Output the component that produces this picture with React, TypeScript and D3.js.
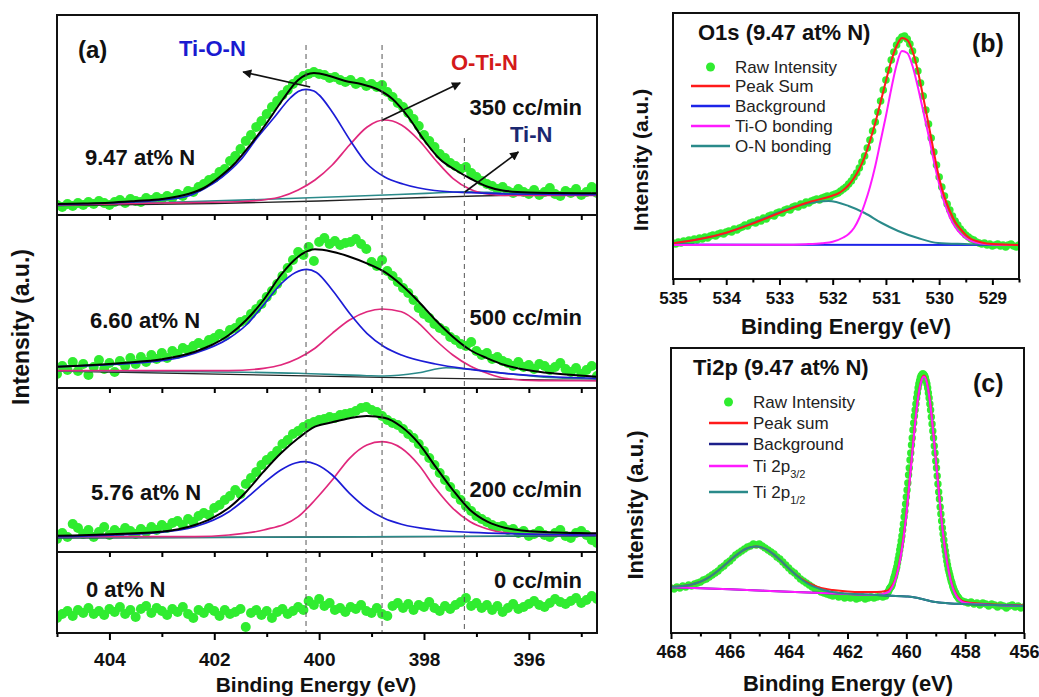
import React, { useEffect, useRef } from "react"
import * as d3 from "d3"

type Pt = [number, number]

// ---------- (a) N 1s, raw counts every 0.1 eV from 405 eV down ----------
const n1sStart = 405
const n1sStep = 0.1
const n1sDomain = [405, 394.7]
const n1sMajor = [404, 402, 400, 398, 396]
const n1sMinor = [405, 403, 401, 399, 397, 395]
const n1sEvery = [404, 403, 402, 401, 400, 399, 398, 397, 396, 395]
const n1sGuides = [400.25, 398.8, 397.23]
const nContent = ["9.47 at% N", "6.60 at% N", "5.76 at% N", "0 at% N"]
const nh3Flow = ["350 cc/min", "500 cc/min", "200 cc/min", "0 cc/min"]

const raw947 = [
  6, 4, 7, 5, 8, 6, 9, 7, 10, 8,
  6, 9, 11, 8, 12, 10, 9, 13, 11, 14,
  12, 15, 13, 17, 15, 20, 19, 24, 27, 31,
  33, 39, 42, 50, 55, 62, 70, 76, 84, 90,
  97, 104, 110, 116, 121, 127, 131, 135, 137, 139,
  137, 136, 133, 134, 131, 129, 131, 127, 129, 125,
  127, 124, 126, 119, 114, 108, 104, 98, 92, 85,
  76, 70, 64, 57, 53, 48, 45, 42, 44, 38,
  34, 30, 27, 25, 22, 24, 20, 18, 22, 19,
  17, 21, 16, 19, 23, 17, 15, 20, 18, 22,
  16, 19, 24, 18,
]
const raw660 = [
  14, 22, 18, 26, 17, 24, 13, 21, 28, 19,
  25, 16, 27, 22, 30, 24, 31, 26, 33, 29,
  35, 30, 37, 34, 40, 38, 42, 45, 43, 48,
  50, 54, 52, 58, 60, 66, 68, 74, 79, 84,
  91, 97, 104, 112, 120, 128, 136, 133, 141, 127,
  146, 150, 144, 147, 143, 145, 146, 149, 144, 139,
  126, 122, 128, 117, 112, 106, 100, 95, 88, 80,
  74, 70, 64, 60, 57, 51, 48, 44, 42, 46,
  37, 33, 35, 29, 31, 27, 25, 22, 26, 21,
  23, 19, 24, 22, 18, 21, 25, 19, 16, 20,
  14, 18, 22, 12,
]
const raw576 = [
  13, 19, 15, 28, 24, 18, 22, 15, 20, 25,
  17, 22, 19, 24, 21, 18, 23, 20, 25, 22,
  27, 24, 29, 31, 27, 33, 30, 36, 39, 37,
  44, 47, 52, 56, 62, 58, 68, 74, 80, 87,
  92, 96, 101, 108, 112, 118, 121, 125, 128, 130,
  132, 133, 135, 134, 137, 138, 139, 141, 144, 145,
  142, 140, 136, 132, 129, 127, 123, 118, 114, 108,
  101, 94, 87, 79, 72, 65, 58, 52, 46, 41,
  36, 33, 30, 27, 25, 26, 22, 23, 19, 21,
  16, 18, 21, 17, 15, 19, 22, 16, 14, 19,
  21, 17, 12, 9,
]
const raw000 = [
  14, 18, 21, 16, 22, 19, 24, 18, 21, 17,
  23, 20, 25, 18, 22, 15, 23, 26, 19, 24,
  21, 17, 23, 20, 25, 18, 14, 22, 19, 24,
  21, 16, 22, 18, 20, 23, 5, 19, 22, 17,
  21, 14, 20, 23, 18, 21, 25, 22, 31, 27,
  33, 26, 29, 22, 24, 20, 25, 23, 27, 21,
  19, 24, 18, 16, 26, 29, 24, 28, 22, 27,
  25, 30, 24, 21, 26, 23, 27, 30, 34, 26,
  29, 24, 27, 22, 26, 20, 24, 28, 23, 25,
  28, 31, 27, 25, 29, 33, 30, 28, 31, 34,
  29, 32, 36, 33,
]

// fitted components [eV, intensity]
const sum947: Pt[] = [[405, 7], [404.5, 7.5], [404, 8.3], [403.5, 10], [403, 12], [402.5, 17], [402.2, 23], [401.9, 34], [401.6, 48], [401.3, 67], [401, 88], [400.7, 111], [400.4, 131], [400.1, 138], [399.8, 135], [399.5, 130], [399.2, 127], [398.9, 122], [398.6, 112], [398.3, 94], [398, 71], [397.7, 52], [397.4, 41], [397.1, 32], [396.8, 24.5], [396.5, 20.5], [396, 18.5], [395.5, 18], [394.7, 17.7]]
const tion947: Pt[] = [[405, 6.3], [404, 8], [403, 11], [402.5, 15], [402.2, 22], [401.85, 34], [401.5, 51], [401.2, 72], [400.85, 94], [400.55, 113], [400.4, 119.5], [400.25, 121.7], [400.1, 120], [400, 116], [399.75, 99], [399.4, 70], [399.1, 48], [398.75, 34], [398.4, 27], [397.8, 20.5], [397.1, 18.3], [396.4, 17], [394.7, 16.3]]
const otin947: Pt[] = [[405, 6], [403, 8], [401.5, 9.5], [401, 11.5], [400.73, 14.3], [400.4, 21], [400.08, 31], [399.75, 46], [399.42, 66], [399.09, 83.7], [398.9, 89.5], [398.76, 91], [398.6, 90], [398.43, 86], [398.1, 71], [397.78, 51], [397.45, 32.7], [397.12, 21.7], [396.79, 17], [396.46, 15.7], [394.7, 15.7]]
const tin947: Pt[] = [[405, 6], [403, 8.5], [401, 11.7], [399.5, 14.5], [398.5, 16.5], [397.8, 18], [397.2, 19.3], [396.8, 18.7], [396.2, 17], [394.7, 16.3]]
const bg947: Pt[] = [[405, 5.5], [402, 7.5], [400, 10], [398, 13.5], [397, 15], [396, 16], [394.7, 16.5]]

const sum660: Pt[] = [[405, 21.3], [403.7, 25.3], [403, 28.7], [402.37, 36.3], [402.05, 43], [401.72, 53], [401.39, 68], [401.06, 88], [400.73, 113], [400.4, 131.3], [400.08, 138.7], [399.75, 136.3], [399.42, 131.3], [399.09, 124.7], [398.76, 116.3], [398.43, 103], [398.1, 86.3], [397.78, 68], [397.45, 51.3], [397.12, 38], [396.79, 29.7], [396.46, 23], [395.81, 16.3], [395.15, 13], [394.7, 11.3]]
const tion660: Pt[] = [[405, 21.3], [403, 27.3], [402.37, 34.7], [401.72, 49.7], [401.39, 63], [401.06, 83], [400.73, 104], [400.45, 115.5], [400.24, 118.7], [400.05, 115.5], [399.75, 98], [399.42, 74.7], [399.09, 54.7], [398.76, 41.3], [398.43, 33], [397.78, 24], [397.12, 18.7], [396.46, 14.7], [395.81, 12], [394.7, 9.7]]
const otin660: Pt[] = [[405, 17.3], [401.72, 17.3], [401.06, 19.7], [400.73, 23], [400.4, 29.7], [400.08, 39.7], [399.75, 54.7], [399.42, 68], [399.09, 76.3], [398.8, 79], [398.43, 76.3], [398.1, 64.7], [397.78, 48], [397.45, 33], [397.12, 22], [396.79, 14.7], [396.46, 9.7], [395.81, 7.3], [394.7, 7.3]]
const tin660: Pt[] = [[405, 17], [402.37, 16.3], [400.4, 14.7], [399.09, 12.3], [398.76, 12], [398.1, 15.3], [397.58, 20.3], [397.12, 18.7], [396.46, 14.7], [395.81, 11.3], [394.7, 8.7]]
const bg660: Pt[] = [[405, 17], [398.8, 10.7], [394.7, 7.3]]

const sum576: Pt[] = [[405, 16.3], [403.03, 20.3], [402.37, 27], [402.05, 33.7], [401.72, 44.3], [401.39, 60.3], [401.06, 80.3], [400.73, 98.7], [400.4, 113.7], [400.08, 125.3], [399.75, 129.7], [399.42, 133.7], [399.09, 136], [398.76, 134.3], [398.43, 125.3], [398.1, 108.7], [397.78, 85.3], [397.45, 62], [397.12, 42], [396.79, 30.3], [396.46, 24.3], [395.81, 20.3], [394.7, 18.7]]
const tion576: Pt[] = [[405, 15.3], [403.03, 19.7], [402.37, 25.3], [401.72, 40.3], [401.39, 53.7], [401.06, 68.7], [400.73, 82], [400.45, 89], [400.27, 90.3], [400.05, 87.5], [399.75, 77], [399.42, 58.7], [399.09, 43.7], [398.76, 33.7], [398.43, 27.7], [397.78, 22], [397.12, 19.7], [394.7, 17]]
const otin576: Pt[] = [[405, 15.3], [402.37, 15.3], [401.72, 17], [401.06, 22], [400.4, 35.3], [400.08, 52], [399.75, 72], [399.42, 93.7], [399.09, 107], [398.8, 110.3], [398.43, 103.7], [398.1, 87], [397.78, 63.7], [397.45, 43.7], [397.12, 30.3], [396.79, 23], [396.46, 19.3], [395.81, 17.7], [394.7, 17]]
const tin576: Pt[] = [[405, 14.3], [400, 15], [397, 15.8], [394.7, 16.3]]
const bg576: Pt[] = [[405, 14], [394.7, 16]]

// ---------- (b) O 1s, raw every 0.05 eV from 535 eV ----------
const o1sStart = 535
const o1sStep = 0.05
const o1sDomain = [535, 528.5]
const o1sMajor = [535, 534, 533, 532, 531, 530, 529]
const o1sMinor = [534.5, 533.5, 532.5, 531.5, 530.5, 529.5, 528.5]
const o1sRaw = [
  36, 35, 37, 36, 38, 37, 39, 38, 40, 39,
  41, 40, 42, 41, 43, 44, 43, 45, 46, 45,
  47, 48, 47, 50, 49, 51, 52, 54, 53, 56,
  57, 56, 59, 58, 61, 60, 63, 64, 63, 66,
  67, 66, 69, 70, 69, 72, 73, 72, 75, 74,
  77, 76, 78, 79, 80, 79, 81, 82, 83, 82,
  84, 85, 86, 88, 90, 92, 95, 98, 102, 106,
  111, 117, 123, 131, 139, 148, 157, 167, 178, 189,
  199, 209, 219, 227, 234, 239, 242, 243, 240, 235,
  228, 219, 208, 196, 183, 169, 155, 141, 127, 114,
  102, 92, 83, 75, 69, 63, 58, 54, 50, 47,
  44, 42, 40, 39, 37, 36, 35, 36, 34, 35,
  33, 34, 35, 33, 34, 32, 34, 35, 33, 32,
  34,
]
const o1sSum: Pt[] = [[535, 35.7], [534.5, 40], [534, 46.3], [533.5, 55.5], [533, 66], [532.5, 76], [532, 83.5], [531.9, 85.5], [531.8, 89], [531.7, 94], [531.6, 101], [531.5, 110], [531.4, 122], [531.3, 138], [531.2, 156], [531.1, 177], [531, 198], [530.9, 218], [530.8, 233], [530.7, 241], [530.6, 239], [530.5, 228], [530.4, 208], [530.3, 182], [530.2, 155], [530.1, 127], [530, 101], [529.9, 82], [529.8, 68], [529.7, 57], [529.6, 50], [529.5, 44], [529.4, 40], [529.3, 38], [529.2, 36.5], [529, 35], [528.5, 34]]
const o1sBg: Pt[] = [[535, 34.5], [528.5, 34]]
const o1sTiO: Pt[] = [[535, 34], [533, 34.2], [532.5, 34.8], [532.2, 35.8], [532, 37.3], [531.8, 41.5], [531.7, 45], [531.6, 51], [531.5, 61], [531.4, 75], [531.3, 92], [531.2, 113], [531.1, 138], [531, 163], [530.9, 190], [530.8, 214], [530.7, 228], [530.6, 226], [530.5, 213], [530.4, 192], [530.3, 168], [530.2, 144], [530.1, 118], [530, 95], [529.9, 76], [529.8, 62], [529.7, 52], [529.6, 45.5], [529.5, 41], [529.4, 38], [529.2, 35.5], [529, 34.6], [528.5, 34]]
const o1sON: Pt[] = [[535, 35.7], [534.5, 40], [534, 46], [533.65, 53], [533.28, 61], [532.9, 69], [532.52, 75], [532.08, 78], [531.7, 73], [531.4, 66], [531.08, 56], [530.77, 48], [530.4, 41], [530.02, 36], [529.52, 35], [528.5, 34]]
const o1sLegend = ["Raw Intensity", "Peak Sum", "Background", "Ti-O bonding", "O-N bonding"]

// ---------- (c) Ti 2p, raw in three runs ----------
const ti2pDomain = [468, 456]
const ti2pMajor = [468, 466, 464, 462, 460, 458, 456]
const ti2pMinor = [467, 465, 463, 461, 459, 457]
const ti2pRawA = [ // 468.0 .. 460.7, 0.1 eV
  45, 44, 46, 45, 47, 46, 48, 47, 49, 50,
  51, 53, 54, 56, 58, 60, 62, 65, 67, 70,
  72, 75, 78, 80, 82, 84, 86, 87, 89, 88,
  89, 87, 85, 83, 81, 79, 76, 74, 71, 68,
  65, 62, 60, 57, 54, 52, 50, 48, 46, 44,
  43, 41, 40, 39, 38, 37, 38, 36, 37, 35,
  36, 35, 36, 34, 35, 36, 34, 35, 36, 35,
  36, 37, 36, 37,
]
const ti2pRawB = [ // 460.65 .. 458.20, 0.025 eV
  40, 41, 42, 44, 45, 46, 47, 49, 52, 55,
  57, 60, 63, 66, 70, 74, 78, 83, 87, 92,
  97, 103, 109, 116, 122, 129, 136, 143, 150, 158,
  165, 173, 180, 188, 195, 203, 210, 217, 223, 229,
  235, 240, 245, 249, 252, 255, 257, 258, 259, 259,
  258, 257, 255, 252, 249, 245, 240, 235, 229, 223,
  216, 209, 202, 195, 187, 180, 172, 165, 157, 149,
  141, 134, 126, 119, 112, 105, 99, 93, 87, 82,
  77, 72, 68, 64, 61, 58, 55, 52, 50, 47,
  45, 43, 41, 40, 38, 37, 36, 35, 34,
]
const ti2pRawC = [ // 458.1 .. 456.0, 0.1 eV
  32, 31, 30, 31, 29, 30, 28, 30, 29, 27,
  29, 28, 26, 28, 27, 25, 27, 28, 26, 27,
  25, 26,
]
const ti2pBg: Pt[] = [[468, 45.7], [466, 43.7], [464, 41.3], [462, 39], [461, 38], [460.5, 37.3], [460, 36.5], [459.8, 36], [459.6, 35], [459.4, 33.5], [459.2, 32], [459, 31], [458.8, 30.2], [458.5, 29.5], [458, 29], [457, 28], [456, 27]]
const ti2p12: Pt[] = [[468, 46.2], [467.6, 47], [467.3, 48.5], [467.1, 50.2], [466.9, 52.6], [466.7, 55.9], [466.5, 60], [466.3, 64.7], [466.1, 69.8], [465.9, 75], [465.7, 79.6], [465.5, 83.5], [465.3, 85.8], [465.1, 86.6], [464.9, 85.4], [464.7, 82.7], [464.5, 78.4], [464.3, 73.2], [464.1, 67.5], [463.9, 62], [463.7, 56.8], [463.5, 52.3], [463.3, 48.6], [463.1, 45.8], [462.9, 43.7], [462.6, 41.6], [462.1, 39.5], [461, 38], [460.5, 37.3], [460, 36.5], [459.8, 36], [459.6, 35], [459.4, 33.5], [459.2, 32], [459, 31], [458.8, 30.2], [458.5, 29.5], [458, 29], [457, 28], [456, 27]]
const ti2p32: Pt[] = [[468, 45.7], [466, 43.7], [464, 41.3], [462, 39], [461, 38], [460.6, 41], [460.5, 45], [460.4, 51], [460.3, 61], [460.2, 75], [460.1, 94], [460, 118], [459.9, 148], [459.8, 179], [459.7, 210], [459.6, 235], [459.5, 251], [459.4, 256.5], [459.3, 250], [459.2, 232], [459.1, 205], [459, 174], [458.9, 143], [458.8, 112], [458.7, 87], [458.6, 68], [458.5, 53.5], [458.4, 43.4], [458.3, 37.3], [458.2, 33.2], [458, 30], [457, 28], [456, 27]]
const ti2pSum: Pt[] = [[468, 46.2], [467.6, 47], [467.3, 48.5], [467.1, 50.2], [466.9, 52.6], [466.7, 55.9], [466.5, 60], [466.3, 64.7], [466.1, 69.8], [465.9, 75], [465.7, 79.6], [465.5, 83.5], [465.3, 85.8], [465.1, 86.6], [464.9, 85.4], [464.7, 82.7], [464.5, 78.4], [464.3, 73.2], [464.1, 67.5], [463.9, 62], [463.7, 57], [463.5, 53], [463.3, 49.5], [463.1, 47], [462.9, 45], [462.5, 43], [462, 41.5], [461.5, 41], [461, 41], [460.7, 42], [460.6, 43], [460.5, 46.5], [460.4, 52], [460.3, 62], [460.2, 76], [460.1, 95], [460, 119], [459.9, 149], [459.8, 180], [459.7, 211], [459.6, 236], [459.5, 252], [459.4, 257.5], [459.3, 251], [459.2, 233], [459.1, 206], [459, 175], [458.9, 144], [458.8, 113], [458.7, 88], [458.6, 69], [458.5, 54.5], [458.4, 44.4], [458.3, 38.3], [458.2, 34.2], [458, 31], [457, 28.5], [456, 27.5]]
const ti2pLegend = ["Raw Intensity", "Peak sum", "Background", "Ti 2p", "Ti 2p"]
const ti2pLegendSub = ["", "", "", "3/2", "1/2"]

const FONT = "'Liberation Sans', Arial, Helvetica, sans-serif"
const INK = "#111"
const GREEN = "#30ec30"
const BLUE = "#1c1cd6"
const PINK = "#e0287c"
const TEAL = "#2a8a8a"
const MAGENTA = "#ff1aff"
const RED = "#ff1a1a"

const series = (start: number, step: number, vals: number[]): Pt[] =>
  vals.map((v, i) => [start - i * step, v])

export default function App() {
  const ref = useRef<SVGSVGElement>(null)

  useEffect(() => {
    const svg = d3.select(ref.current)
    svg.selectAll("*").remove()
    const defs = svg.append("defs")
    defs.append("marker")
      .attr("id", "arrowHead")
      .attr("viewBox", "0 0 10 10")
      .attr("refX", 9)
      .attr("refY", 5)
      .attr("markerWidth", 11)
      .attr("markerHeight", 9)
      .attr("markerUnits", "userSpaceOnUse")
      .attr("orient", "auto")
      .append("path")
      .attr("d", "M0,0 L10,5 L0,10 z")
      .attr("fill", INK)

    const text = (x: number, y: number, s: string, size: number, fill = INK, anchor = "start", weight = "bold") =>
      svg.append("text")
        .attr("x", x)
        .attr("y", y)
        .attr("font-family", FONT)
        .attr("font-size", size)
        .attr("font-weight", weight)
        .attr("text-anchor", anchor)
        .attr("fill", fill)
        .text(s)

    const vText = (x: number, y: number, s: string, size: number) =>
      text(x, y, s, size, INK, "middle").attr("transform", `rotate(-90,${x},${y})`)

    const spectrum = (id: string, x: any, y: any, box: number[], raw: Pt[], r: number, curves: any[]) => {
      defs.append("clipPath").attr("id", id)
        .append("rect")
        .attr("x", box[0]).attr("y", box[1])
        .attr("width", box[2] - box[0]).attr("height", box[3] - box[1])
      const g = svg.append("g").attr("clip-path", `url(#${id})`)
      g.selectAll("circle")
        .data(raw)
        .enter()
        .append("circle")
        .attr("cx", d => x(d[0]))
        .attr("cy", d => y(d[1]))
        .attr("r", r)
        .attr("fill", GREEN)
      const line = d3.line<Pt>().x(d => x(d[0])).y(d => y(d[1])).curve(d3.curveMonotoneX)
      curves.forEach(c => {
        g.append("path")
          .attr("d", line(c.pts))
          .attr("fill", "none")
          .attr("stroke", c.color)
          .attr("stroke-width", c.w)
      })
      return g
    }

    const bottomAxis = (x: any, yPos: number, major: number[], minor: number[], pad: number, fs: number, big = 6, small = 3.5) => {
      const ax = svg.append("g")
        .attr("transform", `translate(0,${yPos})`)
        .call(d3.axisBottom(x).tickValues(major).tickSize(big).tickPadding(pad).tickFormat(d3.format("d")))
      ax.select(".domain").remove()
      ax.attr("font-family", FONT).attr("font-size", fs).attr("font-weight", "bold")
      ax.selectAll("line").attr("stroke-width", 2)
      ax.selectAll("text").attr("fill", INK)
      const mn = svg.append("g")
        .attr("transform", `translate(0,${yPos})`)
        .call(d3.axisBottom(x).tickValues(minor).tickSize(small).tickFormat(() => ""))
      mn.select(".domain").remove()
      mn.selectAll("line").attr("stroke-width", 2)
    }

    const frame = (x0: number, y0: number, x1: number, y1: number) =>
      svg.append("rect")
        .attr("x", x0).attr("y", y0)
        .attr("width", x1 - x0).attr("height", y1 - y0)
        .attr("fill", "none")
        .attr("stroke", INK)
        .attr("stroke-width", 2)

    // ================= panel (a) =================
    const xA = d3.scaleLinear().domain(n1sDomain).range([57, 597])
    const rows = [
      { raw: raw947, fit: [bg947, tin947, otin947, tion947, sum947], top: 15, bottom: 215, lo: -4, hi: 196, lx: 85, ly: 165, ry: 115 },
      { raw: raw660, fit: [bg660, tin660, otin660, tion660, sum660], top: 215, bottom: 388, lo: 0, hi: 173, lx: 90, ly: 328, ry: 325 },
      { raw: raw576, fit: [bg576, tin576, otin576, tion576, sum576], top: 388, bottom: 552, lo: 0, hi: 164, lx: 91, ly: 500, ry: 497 },
      { raw: raw000, fit: null, top: 552, bottom: 633, lo: -1, hi: 80, lx: 86, ly: 597, ry: 588 },
    ]
    const fitStyle = [["#222", 1.3], [TEAL, 1.6], [PINK, 1.7], [BLUE, 1.7], ["#000", 2]]
    const yRows = rows.map(r => d3.scaleLinear().domain([r.lo, r.hi]).range([r.bottom, r.top]))
    rows.forEach((r, i) => {
      const curves = r.fit ? r.fit.map((pts, k) => ({ pts, color: fitStyle[k][0], w: fitStyle[k][1] })) : []
      spectrum(`clipA${i}`, xA, yRows[i], [57, r.top, 597, r.bottom], series(n1sStart, n1sStep, r.raw), 5, curves)
      text(r.lx, r.ly, nContent[i], 22)
      text(582, r.ry, nh3Flow[i], 22, INK, "end")
    })

    n1sGuides.forEach((e, i) => {
      svg.append("line")
        .attr("x1", xA(e)).attr("x2", xA(e))
        .attr("y1", i < 2 ? 45 : 138).attr("y2", 633)
        .attr("stroke", "#555")
        .attr("stroke-width", 1)
        .attr("stroke-dasharray", "5,4")
    })

    frame(57, 15, 597, 633)
    ;[215, 388, 552].forEach(yy => {
      svg.append("line").attr("x1", 57).attr("x2", 597).attr("y1", yy).attr("y2", yy)
        .attr("stroke", INK).attr("stroke-width", 2)
      const t = svg.append("g")
        .attr("transform", `translate(0,${yy})`)
        .call(d3.axisBottom(xA).tickValues(n1sEvery).tickSize(5).tickFormat(() => ""))
      t.select(".domain").remove()
      t.selectAll("line").attr("stroke-width", 2)
    })
    bottomAxis(xA, 633, n1sMajor, n1sMinor, 13, 19, 7, 4)

    // arrows pointing at the components of the top spectrum
    const arrows: Pt[][] = [[[400.17, 124], [401.45, 139]], [[398.79, 91], [397.31, 128]], [[397.22, 19], [396.2, 59]]]
    arrows.forEach(a => {
      svg.append("line")
        .attr("x1", xA(a[0][0])).attr("y1", yRows[0](a[0][1]))
        .attr("x2", xA(a[1][0])).attr("y2", yRows[0](a[1][1]))
        .attr("stroke", INK)
        .attr("stroke-width", 1.6)
        .attr("marker-end", "url(#arrowHead)")
    })
    text(78, 58, "(a)", 24)
    text(179, 56, "Ti-O-N", 22, "#1a1ad0")
    text(451, 70, "O-Ti-N", 22, "#d41a1a")
    text(510, 142, "Ti-N", 22, "#1b2870")
    text(316, 692, "Binding Energy (eV)", 21, INK, "middle")
    vText(29, 327, "Intensity (a.u.)", 23)

    // ================= panel (b) =================
    const xB = d3.scaleLinear().domain(o1sDomain).range([673, 1019])
    const yB = d3.scaleLinear().domain([0, 266]).range([279, 13])
    spectrum("clipB", xB, yB, [673, 13, 1019, 279], series(o1sStart, o1sStep, o1sRaw), 3.8, [
      { pts: o1sBg, color: "#1d24e8", w: 2 },
      { pts: o1sON, color: TEAL, w: 2 },
      { pts: o1sTiO, color: MAGENTA, w: 2 },
      { pts: o1sSum, color: RED, w: 2 },
    ])
    frame(673, 13, 1019, 279)
    bottomAxis(xB, 279, o1sMajor, o1sMinor, 7, 17)
    text(698, 40, "O1s (9.47 at% N)", 22)
    text(972, 52, "(b)", 25)
    text(846, 334, "Binding Energy (eV)", 22, INK, "middle")
    vText(648, 160, "Intensity (a.u.)", 21)

    const legend = (x0: number, x1: number, tx: number, ys: number[], labels: string[], subs: string[], colors: string[]) => {
      labels.forEach((lab, i) => {
        if (i === 0) {
          svg.append("circle").attr("cx", (x0 + x1) / 2).attr("cy", ys[i]).attr("r", 4.5).attr("fill", GREEN)
        } else {
          svg.append("line").attr("x1", x0).attr("x2", x1).attr("y1", ys[i]).attr("y2", ys[i])
            .attr("stroke", colors[i]).attr("stroke-width", 2.5)
        }
        const t = text(tx, ys[i], "", 17, "#222", "start", "normal").attr("dy", "0.36em")
        t.append("tspan").text(lab)
        if (subs[i]) t.append("tspan").attr("font-size", 11).attr("dy", 6).text(subs[i])
      })
    }
    legend(691, 730, 735, [67, 86, 106, 126, 146], o1sLegend, ["", "", "", "", ""], [GREEN, RED, "#1d24e8", MAGENTA, TEAL])

    // ================= panel (c) =================
    const xC = d3.scaleLinear().domain(ti2pDomain).range([671, 1024])
    const yC = d3.scaleLinear().domain([0, 285]).range([633, 348])
    const rawC = series(468, 0.1, ti2pRawA)
      .concat(series(460.65, 0.025, ti2pRawB))
      .concat(series(458.1, 0.1, ti2pRawC))
    spectrum("clipC", xC, yC, [671, 348, 1024, 633], rawC, 3.7, [
      { pts: ti2pSum, color: RED, w: 2 },
      { pts: ti2pBg, color: "#1c1f8a", w: 2 },
      { pts: ti2p32, color: MAGENTA, w: 2 },
      { pts: ti2p12, color: TEAL, w: 2 },
    ])
    frame(671, 348, 1024, 633)
    bottomAxis(xC, 633, ti2pMajor, ti2pMinor, 6, 18)
    text(693, 375, "Ti2p (9.47 at% N)", 22)
    text(973, 392, "(c)", 25)
    text(848, 691, "Binding Energy (eV)", 22, INK, "middle")
    vText(643, 505, "Intensity (a.u.)", 22)
    legend(709, 748, 753, [402, 423, 444, 466, 492], ti2pLegend, ti2pLegendSub, [GREEN, RED, "#1c1f8a", MAGENTA, TEAL])
  }, [])

  return (
    <svg
      ref={ref}
      width={1039}
      height={697}
      style={{ position: "absolute", left: 0, top: 0, background: "#fff" }}
    />
  )
}
